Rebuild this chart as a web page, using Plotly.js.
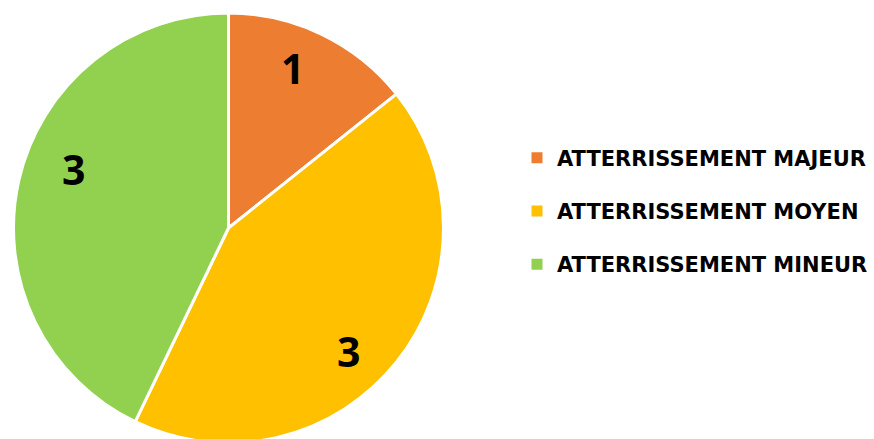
<!DOCTYPE html>
<html>
<head>
<meta charset="utf-8">
<script src="https://cdn.plot.ly/plotly-3.0.1.min.js"></script>
<style>html,body{margin:0;padding:0;background:#fff;overflow:hidden;width:874px;height:439px;}#chart{width:874px;height:443px;}</style>
</head>
<body>
<div id="chart"></div>
<script>
const categories = ["ATTERRISSEMENT MAJEUR", "ATTERRISSEMENT MOYEN", "ATTERRISSEMENT MINEUR"];
const values = [1, 3, 3];
const colors = ["#ED7D31", "#FFC000", "#92D050"];

const W = 874, H = 443;
const cx = 228.5, cy = 228, R = 215;
const labelRadius = [0.80, 0.80, 0.77];
const labelAngleShift = [-4, 7, 8];
const labelFont = {family: "'Open Sans', sans-serif", size: 41, color: "#000000", weight: "bold"};

const pie = {
  type: "pie",
  labels: categories,
  values: values,
  sort: false,
  direction: "clockwise",
  rotation: 0,
  marker: {colors: colors, line: {color: "#ffffff", width: 3}},
  textinfo: "none",
  hoverinfo: "label+value",
  showlegend: false,
  domain: {x: [(cx - R) / W, (cx + R) / W], y: [(H - cy - R) / H, (H - cy + R) / H]}
};

// value labels placed from the slice angles derived from the data
const total = values.reduce((a, b) => a + b, 0);
let cum = 0;
const annotations = values.map((v, i) => {
  const mid = (cum + v / 2) / total * 360 + labelAngleShift[i];
  cum += v;
  const a = mid * Math.PI / 180;
  const r = R * labelRadius[i];
  return {
    xref: "paper", yref: "paper",
    x: (cx + r * Math.sin(a)) / W,
    y: (H - (cy - r * Math.cos(a))) / H,
    text: String(v), showarrow: false,
    xanchor: "center", yanchor: "middle",
    font: labelFont
  };
});

const legendTraces = categories.map((c, i) => ({
  type: "scatter",
  x: [null], y: [null],
  mode: "markers",
  name: c,
  legendgroup: "g" + i,
  marker: {symbol: "square", size: 11, color: colors[i]},
  showlegend: true,
  hoverinfo: "skip"
}));

const layout = {
  width: W, height: H,
  margin: {l: 0, r: 0, t: 0, b: 0},
  paper_bgcolor: "#ffffff",
  plot_bgcolor: "#ffffff",
  xaxis: {visible: false},
  yaxis: {visible: false},
  showlegend: true,
  annotations: annotations,
  legend: {
    x: 517 / W, xanchor: "left",
    y: (H - 211) / H, yanchor: "middle",
    tracegroupgap: 23,
    font: {family: "'DejaVu Sans', sans-serif", size: 21, color: "#000000", weight: "bold"},
    bgcolor: "rgba(0,0,0,0)"
  }
};

Plotly.newPlot("chart", [pie].concat(legendTraces), layout, {displayModeBar: false, staticPlot: true});
</script>
</body>
</html>
